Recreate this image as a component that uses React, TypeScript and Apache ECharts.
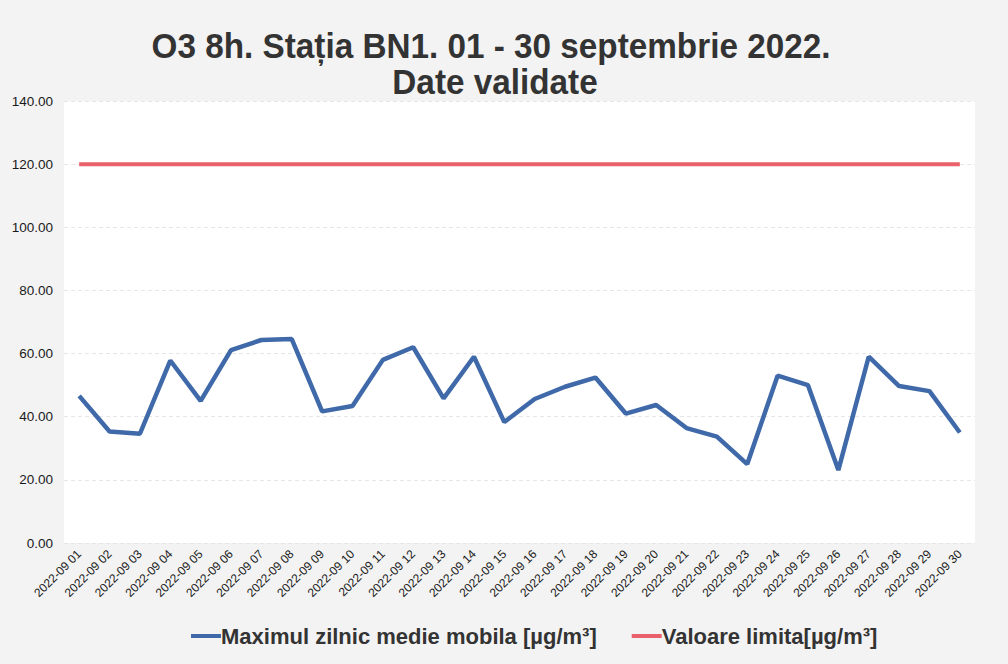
import React, { useEffect, useRef } from "react";
import * as echarts from "echarts";

const titleLines = ["O3 8h. Stația BN1. 01 - 30 septembrie 2022.", "Date validate"];
const categories = [
  "2022-09 01", "2022-09 02", "2022-09 03", "2022-09 04", "2022-09 05",
  "2022-09 06", "2022-09 07", "2022-09 08", "2022-09 09", "2022-09 10",
  "2022-09 11", "2022-09 12", "2022-09 13", "2022-09 14", "2022-09 15",
  "2022-09 16", "2022-09 17", "2022-09 18", "2022-09 19", "2022-09 20",
  "2022-09 21", "2022-09 22", "2022-09 23", "2022-09 24", "2022-09 25",
  "2022-09 26", "2022-09 27", "2022-09 28", "2022-09 29", "2022-09 30",
];
const maxDaily = [
  46.6, 35.3, 34.6, 57.8, 45.0, 61.1, 64.3, 64.6, 41.7, 43.4,
  58.0, 62.0, 45.8, 59.0, 38.3, 45.6, 49.5, 52.4, 41.0, 43.7,
  36.4, 33.7, 25.0, 53.0, 50.0, 23.1, 59.0, 49.7, 48.1, 35.0,
];
const limitValue = categories.map(() => 120);
const seriesNames = ["Maximul zilnic medie mobila [µg/m³]", "Valoare limita[µg/m³]"];

export default function App() {
  const ref = useRef<HTMLDivElement>(null);
  useEffect(() => {
    if (!ref.current) return;
    const chart = echarts.init(ref.current, null, { renderer: "svg" });
    const titleStyle = {
      fontFamily: "Liberation Sans, Arial, sans-serif",
      fontSize: 36,
      fontWeight: "bold",
      fill: "#333",
      textAlign: "center",
      textVerticalAlign: "middle",
    };
    chart.setOption({
      animation: false,
      backgroundColor: "#f3f3f3",
      textStyle: { fontFamily: "Liberation Sans, Arial, sans-serif" },
      graphic: [
        { type: "text", x: 491, y: 46, scaleX: 0.925, style: { ...titleStyle, text: titleLines[0] } },
        { type: "text", x: 495, y: 82, scaleX: 0.925, style: { ...titleStyle, text: titleLines[1] } },
      ],
      grid: {
        left: 64,
        right: 33,
        top: 101,
        bottom: 121,
        show: true,
        backgroundColor: "#ffffff",
        borderWidth: 0,
      },
      legend: {
        bottom: 12,
        left: 186,
        icon: "rect",
        itemWidth: 30,
        itemHeight: 4,
        itemGap: 35,
        textStyle: { fontSize: 22, fontWeight: "bold", color: "#333", padding: [0, 0, 0, -5] },
        data: seriesNames,
      },
      xAxis: {
        type: "category",
        data: categories,
        boundaryGap: true,
        axisLine: { show: false },
        axisTick: { show: false },
        axisLabel: {
          rotate: 45,
          fontSize: 12,
          color: "#1a1a1a",
          margin: 9,
          interval: 0,
        },
      },
      yAxis: {
        type: "value",
        min: 0,
        max: 140,
        interval: 20,
        axisLabel: {
          formatter: (v: number) => v.toFixed(2),
          fontSize: 13.5,
          color: "#1a1a1a",
          margin: 11,
        },
        axisLine: { show: false },
        axisTick: { show: false },
        splitLine: { lineStyle: { color: "#e6e6e6", type: [4, 3], width: 1 } },
      },
      series: [
        {
          name: seriesNames[0],
          type: "line",
          data: maxDaily,
          showSymbol: false,
          symbol: "none",
          lineStyle: { color: "#3f69a8", width: 4.5 },
          itemStyle: { color: "#3f69a8" },
        },
        {
          name: seriesNames[1],
          type: "line",
          data: limitValue,
          showSymbol: false,
          symbol: "none",
          lineStyle: { color: "#e8616b", width: 4 },
          itemStyle: { color: "#e8616b" },
        },
      ],
    });
    return () => chart.dispose();
  }, []);
  return (
    <div
      ref={ref}
      style={{ position: "fixed", left: 0, top: 0, width: 1008, height: 664 }}
    />
  );
}
